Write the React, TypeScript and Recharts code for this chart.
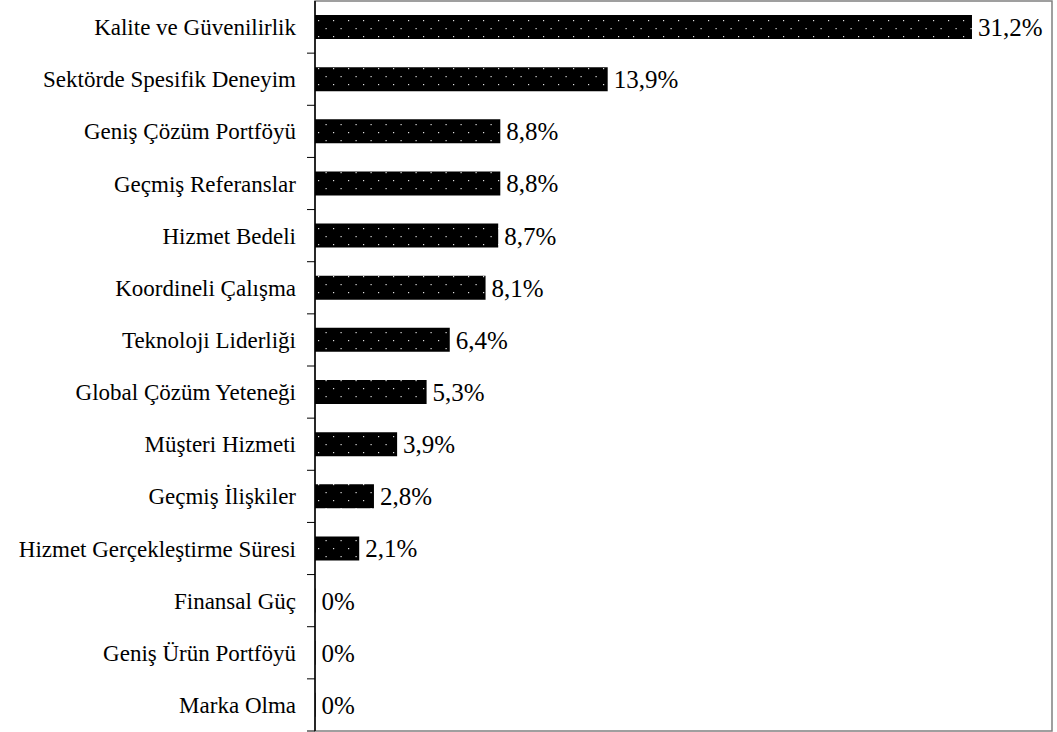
import { BarChart, Bar, XAxis, YAxis, LabelList, ReferenceArea } from "recharts";

const categories = [
  "Kalite ve Güvenilirlik",
  "Sektörde Spesifik Deneyim",
  "Geniş Çözüm Portföyü",
  "Geçmiş Referanslar",
  "Hizmet Bedeli",
  "Koordineli Çalışma",
  "Teknoloji Liderliği",
  "Global Çözüm Yeteneği",
  "Müşteri Hizmeti",
  "Geçmiş İlişkiler",
  "Hizmet Gerçekleştirme Süresi",
  "Finansal Güç",
  "Geniş Ürün Portföyü",
  "Marka Olma",
];
const shares = [31.2, 13.9, 8.8, 8.8, 8.7, 8.1, 6.4, 5.3, 3.9, 2.8, 2.1, 0, 0, 0];

const chartData = categories.map((name, i) => ({ name, value: shares[i] }));

const W = 1057;
const H = 732;
const MARGIN = { top: 1, right: 5, bottom: 1, left: 0 };
const PLOT_H = H - MARGIN.top - MARGIN.bottom;
const FONT = "Liberation Serif, DejaVu Serif, serif";

const fmt = (v: any) => String(v).replace(".", ",") + "%";

// category label + tick mark drawn at the boundary below each band
const CategoryTick = (props: any) => {
  const { x, y, payload } = props;
  const band = PLOT_H / categories.length;
  return (
    <g>
      <text
        x={x - 19}
        y={y}
        dy={8}
        textAnchor="end"
        style={{ fontFamily: FONT, fontSize: 23 }}
        fill="#000"
      >
        {payload.value}
      </text>
      <line x1={x - 8} x2={x} y1={y + band / 2} y2={y + band / 2} stroke="#000" strokeWidth={1} />
    </g>
  );
};

const ValueLabel = (props: any) => {
  const { x, y, width, height, value } = props;
  return (
    <text
      x={x + width + 6}
      y={y + height / 2}
      dy={9}
      style={{ fontFamily: FONT, fontSize: 25 }}
      fill="#000"
    >
      {fmt(value)}
    </text>
  );
};

export default function App() {
  return (
    <div style={{ position: "absolute", left: 0, top: 0 }}>
      <BarChart width={W} height={H} data={chartData} layout="vertical" margin={MARGIN}>
        <defs>
          <pattern id="dots" width={15} height={16} patternUnits="userSpaceOnUse">
            <rect width={15} height={16} fill="#000" />
            <rect x={3} y={4} width={1.2} height={1.2} fill="#e0e0e0" />
            <rect x={10.5} y={12} width={1.2} height={1.2} fill="#e0e0e0" />
          </pattern>
        </defs>
        <ReferenceArea x1={0} x2={35} fill="none" stroke="#808080" strokeWidth={1.5} ifOverflow="visible" />
        <XAxis
          type="number"
          domain={[0, 35]}
          height={0}
          tick={false}
          tickLine={false}
          axisLine={{ stroke: "#000", strokeWidth: 1.5 }}
        />
        <YAxis
          type="category"
          dataKey="name"
          width={315}
          tickSize={0}
          tickMargin={0}
          tickLine={false}
          axisLine={{ stroke: "#000", strokeWidth: 1.5 }}
          tick={<CategoryTick />}
          interval={0}
        />
        <Bar dataKey="value" fill="url(#dots)" barSize={24} minPointSize={0.5} isAnimationActive={false}>
          <LabelList dataKey="value" content={<ValueLabel />} />
        </Bar>
      </BarChart>
    </div>
  );
}
